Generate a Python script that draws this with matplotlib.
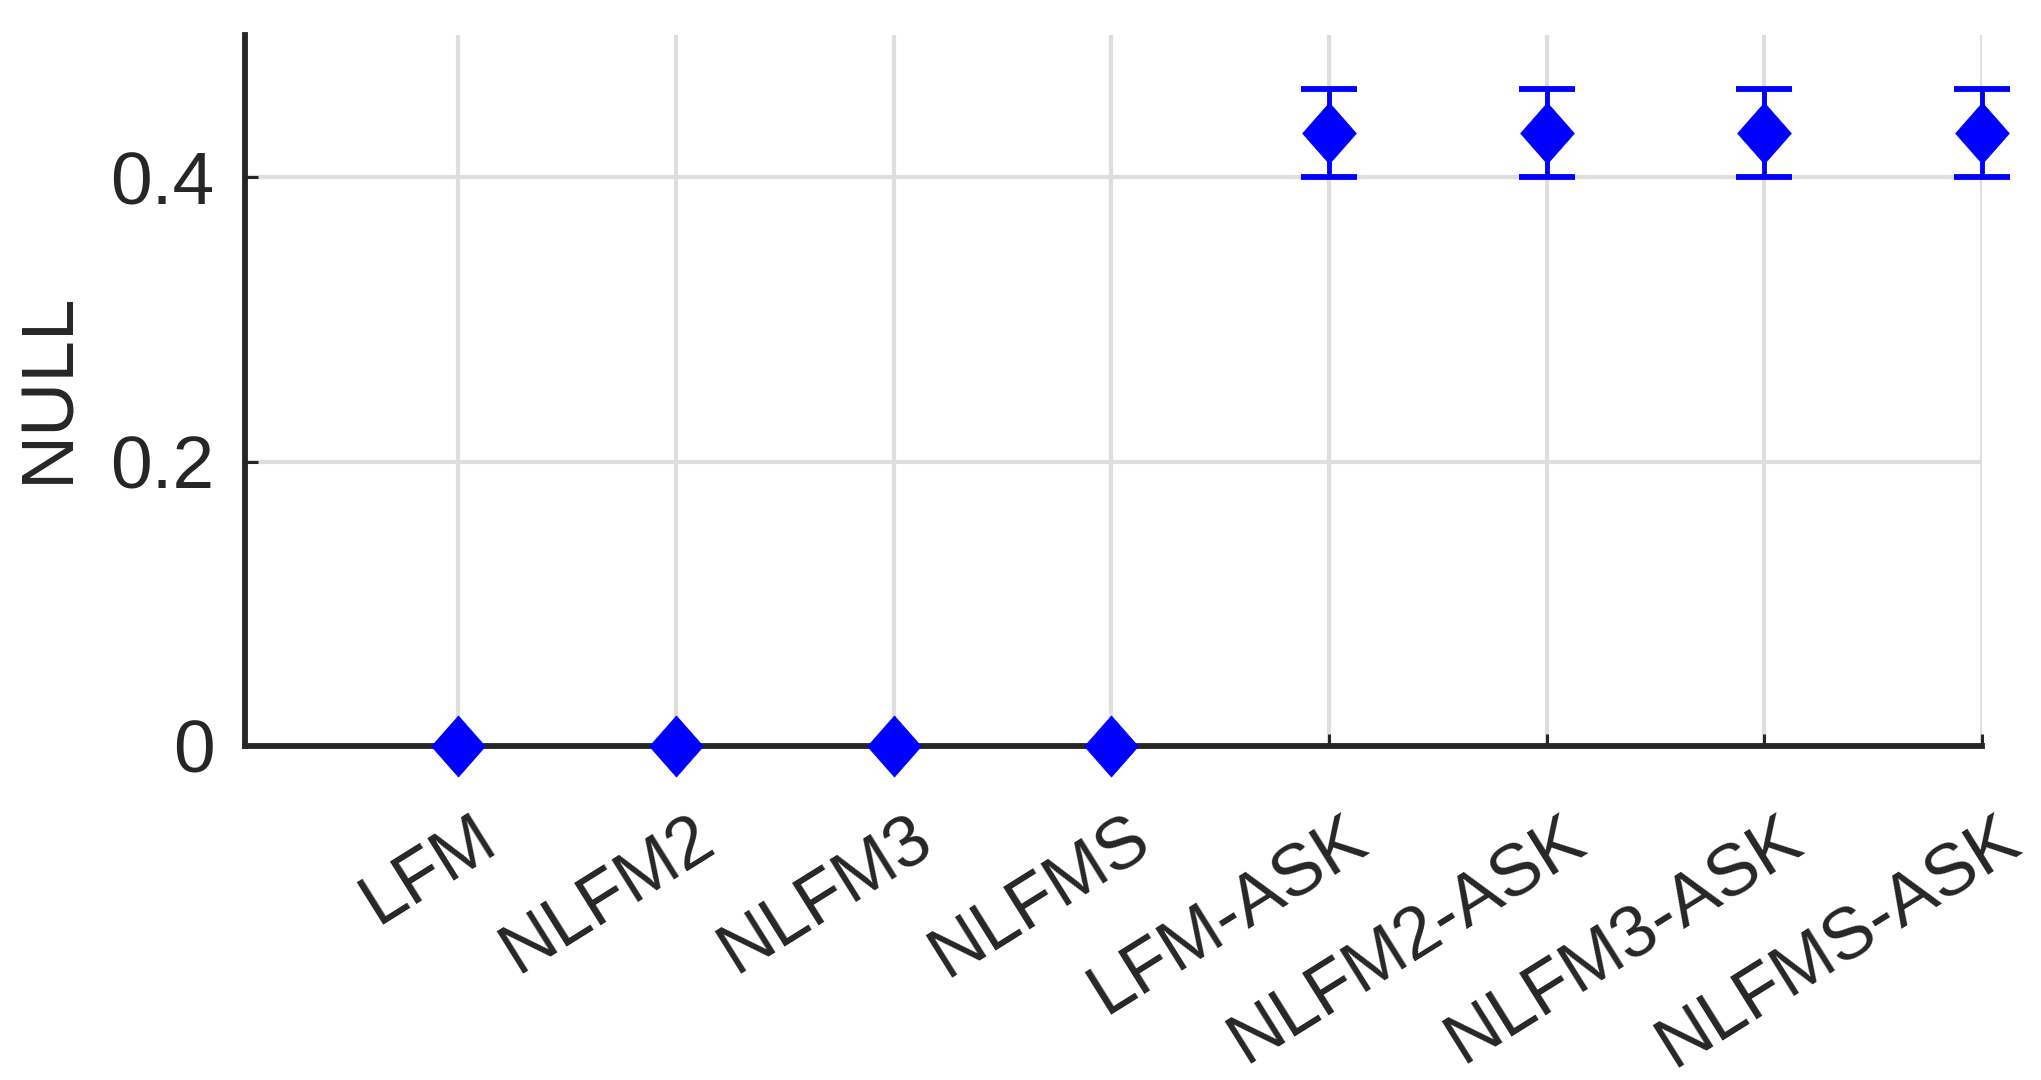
import numpy as np
import matplotlib
matplotlib.use('Agg')
import matplotlib.pyplot as plt
from matplotlib.transforms import ScaledTranslation

# data
categories = ['LFM', 'NLFM2', 'NLFM3', 'NLFMS',
              'LFM-ASK', 'NLFM2-ASK', 'NLFM3-ASK', 'NLFMS-ASK']
null_mean = [0, 0, 0, 0, 0.431, 0.431, 0.431, 0.431]
null_err = [0, 0, 0, 0, 0.031, 0.031, 0.031, 0.031]
y_ticks = [0, 0.2, 0.4]
y_ticklabels = ['0', '0.2', '0.4']

plt.rcParams['font.family'] = ['Liberation Sans', 'DejaVu Sans']
dark = '#262626'

fig = plt.figure(figsize=(20.41, 10.8), dpi=100)
ax = fig.add_axes([0.1200, 0.3093, 0.8511, 0.6583])

x = np.arange(1, len(categories) + 1)
y = np.array(null_mean)
e = np.array(null_err)
has_err = e > 0

# diamond a bit taller than wide, like the reference
diamond = [(0, 1), (0.88, 0), (0, -1), (-0.88, 0), (0, 1)]

ax.errorbar(x[has_err], y[has_err], yerr=e[has_err], fmt='none',
            ecolor='blue', elinewidth=3.5, capsize=20.5, capthick=4.2,
            zorder=3, clip_on=False)
ax.plot(x, y, linestyle='none', marker=diamond, markersize=44,
        color='blue', markeredgewidth=0.5, zorder=4, clip_on=False)

ax.set_xlim(0.02, 8)
ax.set_ylim(0, 0.5)
ax.set_xticks(x)
ax.set_xticklabels(categories)
ax.set_yticks(y_ticks)
ax.set_yticklabels(y_ticklabels)

ax.grid(True, color='#dedede', linewidth=3)
ax.set_axisbelow(True)
for s in ['top', 'right']:
    ax.spines[s].set_visible(False)
for s in ['left', 'bottom']:
    ax.spines[s].set_color(dark)
    ax.spines[s].set_linewidth(4.2)

ax.tick_params(axis='both', direction='in', length=9, width=2.2,
               color=dark, labelcolor=dark, labelsize=54)
ax.tick_params(axis='x', labelsize=52, pad=42)
ax.tick_params(axis='y', pad=22)

shift = ScaledTranslation(0.14, 0, fig.dpi_scale_trans)
for lab in ax.get_xticklabels():
    lab.set_rotation(32)
    lab.set_ha('right')
    lab.set_va('top')
    lab.set_rotation_mode('anchor')
    lab.set_transform(lab.get_transform() + shift)

ax.set_ylabel('NULL', fontsize=54, color=dark, va='center')
ax.yaxis.set_label_coords(-0.113, 0.505)

fig.savefig('out.png', dpi=100)
